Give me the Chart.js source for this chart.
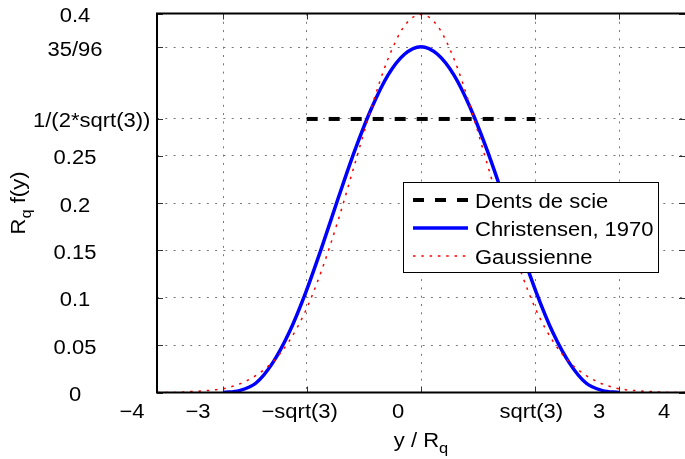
<!DOCTYPE html>
<html lang="fr">
<head>
<meta charset="UTF-8">
<title>Densités de hauteur</title>
<script src="https://cdn.jsdelivr.net/npm/chart.js"></script>
<style>
  html, body { margin: 0; padding: 0; background: #fff; }
  #wrap { width: 685px; height: 459px; }
</style>
</head>
<body>
<div id="wrap"><canvas id="myChart"></canvas></div>
<script>
// values
const sawX = [-1.732, 1.732];
const sawY = [0.2887, 0.2887];

const christX = [-3, -2.75, -2.5, -2.25, -2, -1.75, -1.5, -1.25, -1, -0.75, -0.5, -0.25, 0,
  0.25, 0.5, 0.75, 1, 1.25, 1.5, 1.75, 2, 2.25, 2.5, 2.75, 3];
const christY = [0, 0.002, 0.010, 0.031, 0.063, 0.105, 0.154, 0.206, 0.256, 0.300, 0.335, 0.357, 0.365,
  0.357, 0.335, 0.300, 0.256, 0.206, 0.154, 0.105, 0.063, 0.031, 0.010, 0.002, 0];

const gaussX = [-4, -3.75, -3.5, -3.25, -3, -2.75, -2.5, -2.25, -2, -1.75, -1.5, -1.25, -1, -0.75, -0.5, -0.25, 0,
  0.25, 0.5, 0.75, 1, 1.25, 1.5, 1.75, 2, 2.25, 2.5, 2.75, 3, 3.25, 3.5, 3.75, 4];
const gaussY = [0.000, 0.000, 0.001, 0.002, 0.004, 0.009, 0.018, 0.032, 0.054, 0.086, 0.130, 0.183, 0.242, 0.301, 0.352, 0.387, 0.399,
  0.387, 0.352, 0.301, 0.242, 0.183, 0.130, 0.086, 0.054, 0.032, 0.018, 0.009, 0.004, 0.002, 0.001, 0.000, 0.000];

const seriesNames = ['Dents de scie', 'Christensen, 1970', 'Gaussienne'];

const xTicks = [-4, -3, -1.732, 0, 1.732, 3, 4];
const xTickLabels = ['\u22124', '\u22123', '\u2212sqrt(3)', '0', 'sqrt(3)', '3', '4'];
const yTicks = [0, 0.05, 0.1, 0.15, 0.2, 0.25, 0.2887, 0.3646, 0.4];
const yTickLabels = ['0', '0.05', '0.1', '0.15', '0.2', '0.25', '1/(2*sqrt(3))', '35/96', '0.4'];

// the exported figure has its x labels pushed sideways, keep that look
const xLabelNudge = [-25, -25, -7, -23, -4, -20, -21];
const legendBox = { left: 403, top: 182, right: 658, bottom: 272 };

const FAMILY = '"Liberation Sans", Arial, sans-serif';
const STRETCH = 1.1;

function pts(xs, ys) {
  return xs.map((x, i) => ({ x: x, y: ys[i] }));
}

function setFont(ctx, size) {
  ctx.font = size + 'px ' + FAMILY;
}

function textWidth(ctx, str, size) {
  setFont(ctx, size);
  return ctx.measureText(str).width * STRETCH;
}

function drawText(ctx, str, x, y, size) {
  ctx.save();
  ctx.translate(x, y);
  ctx.scale(STRETCH, 1);
  setFont(ctx, size);
  ctx.textAlign = 'left';
  ctx.textBaseline = 'alphabetic';
  ctx.fillStyle = '#000';
  ctx.fillText(str, 0, 0);
  ctx.restore();
}

// "R" + subscript "q" kind of label, starting at x (local coords)
function drawSubLabel(ctx, before, sub, after, x, y) {
  drawText(ctx, before, x, y, 20);
  x += textWidth(ctx, before, 20);
  drawText(ctx, sub, x, y + 6, 15);
  x += textWidth(ctx, sub, 15);
  if (after) drawText(ctx, after, x, y, 20);
}

function subLabelWidth(ctx, before, sub, after) {
  return textWidth(ctx, before, 20) + textWidth(ctx, sub, 15) + (after ? textWidth(ctx, after, 20) : 0);
}

const frame = {
  id: 'frame',
  afterDraw(chart) {
    const ctx = chart.ctx;
    const a = chart.chartArea;
    const xs = chart.scales.x;
    const ys = chart.scales.y;
    ctx.save();

    // small ticks inside the box, all four sides
    ctx.strokeStyle = '#333';
    ctx.lineWidth = 1;
    ctx.beginPath();
    xs.ticks.forEach(t => {
      const px = Math.round(xs.getPixelForValue(t.value)) + 0.5;
      ctx.moveTo(px, a.bottom); ctx.lineTo(px, a.bottom - 6);
      ctx.moveTo(px, a.top); ctx.lineTo(px, a.top + 6);
    });
    ys.ticks.forEach(t => {
      const py = Math.round(ys.getPixelForValue(t.value)) + 0.5;
      ctx.moveTo(a.left, py); ctx.lineTo(a.left + 6, py);
      ctx.moveTo(a.right, py); ctx.lineTo(a.right - 6, py);
    });
    ctx.stroke();

    // axes box (right side falls off the picture)
    ctx.strokeStyle = '#000';
    ctx.lineWidth = 2;
    ctx.beginPath();
    ctx.moveTo(a.right + 2, a.top);
    ctx.lineTo(a.left, a.top);
    ctx.lineTo(a.left, a.bottom);
    ctx.lineTo(a.right + 2, a.bottom);
    ctx.stroke();

    // tick labels
    xs.ticks.forEach((t, i) => {
      const w = textWidth(ctx, xTickLabels[i], 20);
      const cx = xs.getPixelForValue(t.value) + xLabelNudge[i];
      drawText(ctx, xTickLabels[i], cx - w / 2, a.bottom + 25.5, 20);
    });
    ys.ticks.forEach((t, i) => {
      const w = textWidth(ctx, yTickLabels[i], 20);
      const cx = Math.max(a.left - 82, 33 + w / 2);
      drawText(ctx, yTickLabels[i], cx - w / 2, ys.getPixelForValue(t.value) + 8.5, 20);
    });

    // axis titles
    const xw = subLabelWidth(ctx, 'y / R', 'q', '');
    drawSubLabel(ctx, 'y / R', 'q', '', (a.left + a.right) / 2 - xw / 2, 447);

    ctx.save();
    ctx.translate(25, (a.top + a.bottom) / 2);
    ctx.rotate(-Math.PI / 2);
    const yw = subLabelWidth(ctx, 'R', 'q', ' f(y)');
    drawSubLabel(ctx, 'R', 'q', ' f(y)', -yw / 2, 0);
    ctx.restore();

    // legend
    const b = legendBox;
    ctx.fillStyle = '#fff';
    ctx.fillRect(b.left, b.top, b.right - b.left, b.bottom - b.top);
    ctx.strokeStyle = '#000';
    ctx.lineWidth = 1;
    ctx.strokeRect(b.left + 0.5, b.top + 0.5, b.right - b.left, b.bottom - b.top);
    chart.data.datasets.forEach((ds, i) => {
      const ly = b.top + 18 + i * 28;
      ctx.save();
      ctx.strokeStyle = ds.borderColor;
      ctx.lineWidth = ds.borderWidth;
      ctx.setLineDash(ds.borderDash || []);
      ctx.beginPath();
      ctx.moveTo(b.left + 10, ly);
      ctx.lineTo(b.left + 65, ly);
      ctx.stroke();
      ctx.restore();
      drawText(ctx, ds.label, b.left + 72, ly + 7.5, 20);
    });

    ctx.restore();
  }
};

const ctx = document.getElementById('myChart').getContext('2d');
const myChart = new Chart(ctx, {
  type: 'line',
  data: {
    datasets: [
      {
        label: seriesNames[0],
        data: pts(sawX, sawY),
        borderColor: '#000000',
        borderWidth: 4,
        borderDash: [11, 11],
        pointRadius: 0,
        order: 3
      },
      {
        label: seriesNames[1],
        data: pts(christX, christY),
        borderColor: '#0000ff',
        borderWidth: 3.5,
        cubicInterpolationMode: 'monotone',
        pointRadius: 0,
        order: 2
      },
      {
        label: seriesNames[2],
        data: pts(gaussX, gaussY),
        borderColor: '#ff0000',
        borderWidth: 1.5,
        borderDash: [2.5, 5.8],
        cubicInterpolationMode: 'monotone',
        pointRadius: 0,
        order: 1
      }
    ]
  },
  options: {
    responsive: true,
    maintainAspectRatio: false,
    animation: false,
    layout: { padding: { left: 157, top: 13.5, right: 0, bottom: 66.5 } },
    plugins: {
      legend: { display: false },
      tooltip: { enabled: false }
    },
    scales: {
      x: {
        type: 'linear',
        min: -4,
        max: 4,
        afterBuildTicks: s => { s.ticks = xTicks.map(v => ({ value: v })); },
        ticks: { display: false },
        grid: { color: '#777', lineWidth: 1, drawTicks: false },
        border: { display: false, dash: [2, 6.3] }
      },
      y: {
        type: 'linear',
        min: 0,
        max: 0.4,
        afterBuildTicks: s => { s.ticks = yTicks.map(v => ({ value: v })); },
        ticks: { display: false },
        grid: { color: '#777', lineWidth: 1, drawTicks: false },
        border: { display: false, dash: [2, 6.3] }
      }
    }
  },
  plugins: [frame]
});
</script>
</body>
</html>
